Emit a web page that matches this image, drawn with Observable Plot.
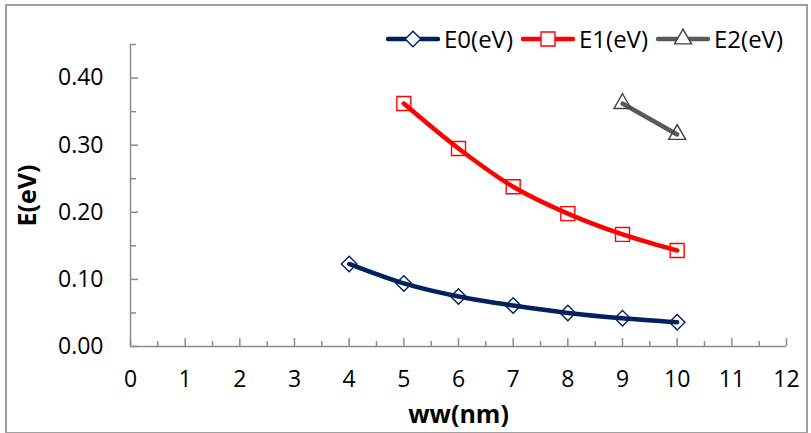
<!DOCTYPE html>
<html>
<head>
<meta charset="utf-8">
<script src="https://cdn.jsdelivr.net/npm/d3@7"></script>
<script src="https://cdn.jsdelivr.net/npm/@observablehq/plot@0.6"></script>
<style>
  body { margin: 0; background: #fff; }
  #wrap { position: relative; width: 811px; height: 433px; font-family: "Open Sans", sans-serif; }
  #frame { position: absolute; left: 5px; top: 4px; width: 799px; height: 426px; border: 2px solid #a0a0a0; pointer-events: none; }
  #legend { position: absolute; left: 386px; top: 22px; display: flex; align-items: center; font-size: 24px; color: #000; }
  #legend .item { display: flex; align-items: center; margin-right: 8px; }
  #legend .item span { margin-left: 4px; }
  #chart { position: absolute; left: 0; top: 0; }
</style>
</head>
<body>
<div id="wrap">
  <div id="chart"></div>
  <div id="legend"></div>
  <div id="frame"></div>
</div>
<script>
// ---- data ----
const seriesNames = ["E0(eV)", "E1(eV)", "E2(eV)"];
const wwE0 = [4, 5, 6, 7, 8, 9, 10];
const valE0 = [0.123, 0.094, 0.0745, 0.061, 0.050, 0.042, 0.036];
const wwE1 = [5, 6, 7, 8, 9, 10];
const valE1 = [0.362, 0.295, 0.238, 0.198, 0.167, 0.143];
const wwE2 = [9, 10];
const valE2 = [0.362, 0.316];
const xTicks = [0, 1, 2, 3, 4, 5, 6, 7, 8, 9, 10, 11, 12];
const xMinorTicks = [0.5, 1.5, 2.5, 3.5, 4.5, 5.5, 6.5, 7.5, 8.5, 9.5, 10.5, 11.5];
const yTicks = [0, 0.1, 0.2, 0.3, 0.4];
const yMinorTicks = [0.05, 0.15, 0.25, 0.35, 0.45];

const colors = ["#002060", "#ff0000", "#595959"];
const markerStroke = ["#002060", "#ff0000", "#404040"];
const symbols = ["diamond2", "square2", "triangle2"];
const radii = [7.0, 8.9, 8.1];

const E0 = wwE0.map((x, i) => ({ww: x, E: valE0[i]}));
const E1 = wwE1.map((x, i) => ({ww: x, E: valE1[i]}));
const E2 = wwE2.map((x, i) => ({ww: x, E: valE2[i]}));
const series = [E0, E1, E2];

const axisColor = "#8c8c8c";
const marks = [
  Plot.ruleY([0], {stroke: axisColor, strokeWidth: 1.5}),
  Plot.ruleX([0], {stroke: axisColor, strokeWidth: 1.5}),
  Plot.axisX({ticks: xTicks, tickSize: -8, tickFormat: () => "", stroke: axisColor, strokeWidth: 1.5, label: null}),
  Plot.axisX({ticks: xMinorTicks, tickSize: -5, tickFormat: () => "", stroke: axisColor, strokeWidth: 1.5, label: null}),
  Plot.axisX({ticks: xTicks, tickSize: 0, tickPadding: 24, tickFormat: d => String(d), fontSize: 23, fill: "#000",
              label: "ww(nm)", labelAnchor: "center", labelOffset: 76, labelArrow: "none"}),
  Plot.axisY({ticks: yTicks, tickSize: -8, tickFormat: () => "", stroke: axisColor, strokeWidth: 1.5, label: null}),
  Plot.axisY({ticks: yMinorTicks, tickSize: -6, tickFormat: () => "", stroke: axisColor, strokeWidth: 1.5, label: null}),
  Plot.axisY({ticks: yTicks, tickSize: 0, tickPadding: 27, tickFormat: d3.format(".2f"), fontSize: 23, fill: "#000",
              label: "E(eV)", labelAnchor: "center", labelOffset: 112, labelArrow: "none"}),
];
series.forEach((data, k) => {
  marks.push(Plot.line(data, {x: "ww", y: "E", stroke: colors[k], strokeWidth: 4.5, curve: "catmull-rom"}));
});
series.forEach((data, k) => {
  marks.push(Plot.dot(data, {x: "ww", y: "E", symbol: () => symbols[k], r: radii[k], stroke: markerStroke[k], strokeWidth: 1.4, fill: "none"}));
});

const chart = Plot.plot({
  width: 811,
  height: 433,
  marginLeft: 130,
  marginRight: 25,
  marginTop: 44,
  marginBottom: 87,
  style: {fontFamily: "'Open Sans', sans-serif", fontSize: "23px", background: "transparent", color: "#000"},
  x: {domain: [0, 12]},
  y: {domain: [0, 0.45]},
  symbol: {type: "identity"},
  marks
});
chart.querySelectorAll('[aria-label="x-axis label"], [aria-label="y-axis label"]').forEach(g => {
  g.setAttribute("font-weight", "bold");
  g.setAttribute("font-size", "25");
});
document.getElementById("chart").appendChild(chart);

// ---- legend (HTML, styled like Excel's) ----
const legend = document.getElementById("legend");
seriesNames.forEach((name, k) => {
  const item = document.createElement("div");
  item.className = "item";
  const svg = d3.create("svg").attr("width", 54).attr("height", 24);
  svg.append("line").attr("x1", 2).attr("x2", 52).attr("y1", 12).attr("y2", 12)
    .attr("stroke", colors[k]).attr("stroke-width", 4.5).attr("stroke-linecap", "round");
  const sym = [d3.symbolDiamond2, d3.symbolSquare2, d3.symbolTriangle2][k];
  svg.append("path").attr("transform", "translate(27,12)")
    .attr("d", d3.symbol(sym, Math.PI * radii[k] * radii[k])())
    .attr("fill", "#fff").attr("stroke", markerStroke[k]).attr("stroke-width", 1.4);
  item.appendChild(svg.node());
  const span = document.createElement("span");
  span.textContent = name;
  item.appendChild(span);
  legend.appendChild(item);
});
</script>
</body>
</html>
